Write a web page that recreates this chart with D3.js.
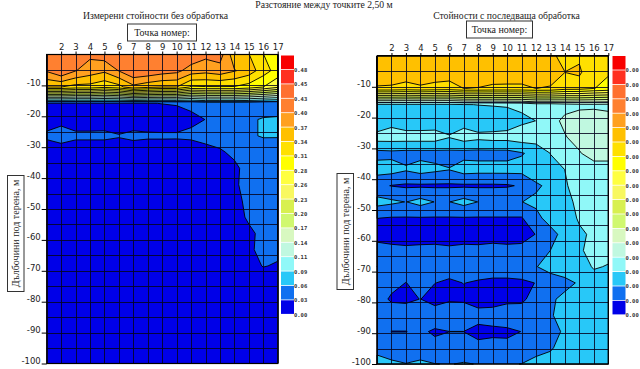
<!DOCTYPE html>
<html>
  <head>
    <meta charset="utf-8">
    <style>
      html, body { margin: 0; padding: 0; background: #fff; }
      svg { display: block; }
      .title { font: 9.7px "Liberation Serif", serif; fill: #222; }
      .boxlabel { font: 10px "Liberation Serif", serif; fill: #222; }
      .axis text { font: 8.5px "DejaVu Sans", sans-serif; fill: #222; }
      .axis line { stroke: #000; }
      .axis path { display: none; }
      .grid line { stroke: #050520; stroke-opacity: 0.85; stroke-width: 1; }
      .legend text { font: bold 5.5px "DejaVu Sans Mono", monospace; fill: #333; }
    </style>
    <script src="https://cdnjs.cloudflare.com/ajax/libs/d3/7.8.5/d3.min.js"></script>
  </head>
  <body>
    <svg class="chart" width="640" height="369"></svg>
    <script>
      // measuring points along the line, and the 20 depth rows of the survey
      const points = [1,2,3,4,5,6,7,8,9,10,11,12,13,14,15,16,17];
      const depths = [0,-5.26,-10.53,-15.79,-21.05,-26.32,-31.58,-36.84,-42.11,-47.37,-52.63,-57.89,-63.16,-68.42,-73.68,-78.95,-84.21,-89.47,-94.74,-100];
      const depthTicks = [-10,-20,-30,-40,-50,-60,-70,-80,-90,-100];
      const gridDepths = [-5,-10,-15,-20,-25,-30,-35,-40,-45,-50,-55,-60,-65,-70,-75,-80,-85,-90,-95];

      // contour levels, bottom to top of the colour bar
      const levels = [0.028,0.057,0.085,0.113,0.142,0.170,0.198,0.227,0.255,0.283,0.312,0.340,0.368,0.397,0.425,0.453,0.482];
      const bandColors = ["#0000e8","#1070f0","#28c8f8","#90f8f8","#c0f8e0","#d8f8c0","#d0f870","#d8f050","#f8f860","#ffff40","#ffff00","#ffe000","#ffc000","#ffa020","#ff8030","#ff7030","#ff3020","#f80000"];
      const leftLegend = ["0.00","0.03","0.06","0.09","0.11","0.14","0.17","0.20","0.23","0.26","0.28","0.31","0.34","0.37","0.40","0.43","0.45","0.48"];
      const rightLegend = ["0.00","0.00","0.00","0.00","0.00","0.00","0.00","0.00","0.00","0.00","0.00","0.00","0.00","0.00","0.00","0.00","0.00","0.00"];

      const leftValues = [
        [.42,.42,.41,.403,.412,.42,.42,.42,.415,.42,.42,.405,.41,.35,.341,.3125,.295],
        [.40,.424,.398,.383,.373,.398,.424,.42,.411,.405,.383,.377,.385,.37,.355,.325,.30],
        [.34,.34,.33,.33,.319,.33,.36,.348,.34,.34,.308,.31,.31,.31,.30,.283,.26],
        [.027,.027,.027,.027,.027,.027,.027,.027,.0285,.03,.032,.04,.04,.04,.04,.035,.035],
        [.018,.024,.018,.018,.019,.018,.019,.018,.016,.016,.024,.0282,.035,.037,.052,.06,.062],
        [.032,.034,.032,.032,.032,.029,.032,.031,.031,.031,.032,.032,.036,.04,.052,.06,.06],
        [.015,.021,.016,.016,.016,.02,.018,.016,.016,.015,.016,.024,.0257,.032,.035,.035,.033],
        [.015,.015,.015,.015,.015,.015,.015,.015,.015,.015,.015,.015,.015,.024,.035,.04,.04],
        [.015,.015,.015,.015,.015,.015,.015,.015,.015,.015,.015,.015,.015,.025,.035,.04,.04],
        [.015,.015,.015,.015,.015,.015,.015,.015,.015,.015,.015,.015,.015,.022,.033,.04,.04],
        [.015,.015,.015,.015,.015,.015,.015,.015,.015,.015,.015,.015,.015,.02,.031,.04,.04],
        [.015,.015,.015,.015,.015,.015,.015,.015,.015,.015,.015,.015,.015,.018,.024,.033,.036],
        [.015,.015,.015,.015,.015,.015,.015,.015,.015,.015,.015,.015,.015,.018,.025,.033,.033],
        [.015,.015,.015,.015,.015,.015,.015,.015,.015,.015,.015,.015,.015,.016,.02,.029,.026],
        [.015,.015,.015,.015,.015,.015,.015,.015,.015,.015,.015,.015,.015,.015,.015,.015,.015],
        [.015,.015,.015,.015,.015,.015,.015,.015,.015,.015,.015,.015,.015,.015,.015,.015,.015],
        [.015,.015,.015,.015,.015,.015,.015,.015,.015,.015,.015,.015,.015,.015,.015,.015,.015],
        [.015,.015,.015,.015,.015,.015,.015,.015,.015,.015,.015,.015,.015,.015,.015,.015,.015],
        [.015,.015,.015,.015,.015,.015,.015,.015,.015,.015,.015,.015,.015,.015,.015,.015,.015],
        [.015,.015,.015,.015,.015,.015,.015,.015,.015,.015,.015,.015,.015,.015,.015,.015,.015]
      ];

      // the right bar only reads 0.00, so these are in the same band units as the left one
      const rightValues = [
        [.355,.355,.355,.355,.355,.355,.355,.355,.355,.355,.355,.355,.345,.3325,.335,.322,.32],
        [.35,.35,.35,.35,.35,.35,.35,.35,.35,.35,.35,.35,.35,.3402,.345,.315,.314],
        [.3382,.3375,.3333,.3375,.334,.3315,.3401,.3394,.3367,.3363,.3363,.3401,.3382,.325,.3233,.3125,.306],
        [.08,.08,.08,.08,.08,.08,.084,.0855,.087,.088,.09,.10,.10,.105,.108,.109,.108],
        [.0575,.076,.0655,.0655,.0677,.077,.0739,.068,.0646,.07,.08,.0852,.105,.118,.123,.123,.12],
        [.098,.098,.098,.098,.098,.0862,.098,.092,.095,.095,.10,.10,.102,.1115,.122,.122,.122],
        [.048,.05,.048,.048,.048,.05,.048,.048,.048,.048,.055,.065,.0855,.095,.111,.125,.125],
        [.069,.068,.060,.068,.0625,.0578,.069,.067,.067,.067,.066,.072,.078,.0852,.095,.10,.10],
        [.035,.027,.024,.024,.024,.024,.024,.024,.024,.025,.031,.053,.063,.083,.093,.10,.10],
        [.067,.062,.0565,.066,.0565,.0565,.066,.0566,.0566,.0566,.0566,.062,.072,.08,.089,.095,.097],
        [.0285,.026,.026,.026,.026,.026,.026,.026,.026,.026,.026,.05,.067,.07,.0885,.095,.097],
        [.012,.012,.012,.012,.012,.012,.012,.012,.012,.012,.015,.029,.048,.066,.08,.09,.10],
        [.045,.038,.035,.037,.038,.0345,.038,.037,.041,.038,.038,.04,.0572,.07,.08,.098,.095],
        [.0572,.045,.042,.042,.042,.042,.042,.042,.042,.042,.042,.056,.066,.075,.07,.088,.083],
        [.04,.036,.0275,.036,.0285,.023,.0285,.025,.022,.022,.024,.0285,.044,.048,.0605,.07,.07],
        [.04,.024,.022,.0285,.016,.024,.023,.016,.016,.019,.02,.045,.052,.065,.07,.072,.072],
        [.045,.044,.045,.045,.046,.05,.048,.038,.04,.05,.05,.05,.055,.065,.07,.072,.072],
        [.04,.0275,.0275,.033,.024,.0278,.0278,.02,.022,.021,.0285,.045,.05,.06,.07,.072,.072],
        [.045,.045,.045,.045,.037,.04,.04,.036,.038,.038,.045,.05,.054,.068,.072,.072,.072],
        [.072,.061,.0575,.061,.0575,.056,.059,.056,.056,.056,.0572,.063,.068,.07,.072,.072,.072]
      ];

      const svg = d3.select(".chart");

      svg.append("text")
        .attr("class", "title")
        .attr("x", 324).attr("y", 8)
        .attr("text-anchor", "middle")
        .text("Разстояние между точките 2,50 м");

      function drawPanel(p) {
        const g = svg.append("g");

        const x = d3.scaleLinear().domain([1, 17]).range([p.left, p.right]);
        const y = d3.scaleLinear().domain([0, -100]).range([p.top, p.bottom]);

        // contour grid index -> data -> pixels
        const xIndex = d3.scaleLinear().domain(points.map((d, i) => i + 0.5)).range(points).clamp(true);
        const yIndex = d3.scaleLinear().domain(depths.map((d, i) => i + 0.5)).range(depths).clamp(true);
        const ringLine = d3.line().x(d => x(xIndex(d[0]))).y(d => y(yIndex(d[1])));

        g.append("rect")
          .attr("x", x(1)).attr("y", y(0))
          .attr("width", x(17) - x(1)).attr("height", y(-100) - y(0))
          .attr("fill", bandColors[0]);

        const contours = d3.contours().size([points.length, depths.length]).thresholds(levels);
        g.append("g").selectAll("path")
          .data(contours(p.values.flat()))
          .enter().append("path")
          .attr("d", c => c.coordinates.map(poly => poly.map(r => ringLine(r) + "Z").join("")).join(""))
          .attr("fill-rule", "evenodd")
          .attr("fill", (c, i) => bandColors[i + 1])
          .attr("stroke", "#000")
          .attr("stroke-opacity", 0.9)
          .attr("stroke-width", 1);

        // grid lines sit on whole pixels so they all come out the same weight
        const snap = v => Math.round(v) + 0.5;
        const grid = g.append("g").attr("class", "grid");
        grid.selectAll(".v").data(points).enter().append("line")
          .attr("class", "v")
          .attr("x1", d => snap(x(d))).attr("x2", d => snap(x(d)))
          .attr("y1", y(0)).attr("y2", y(-100));
        grid.selectAll(".h").data(gridDepths).enter().append("line")
          .attr("class", "h")
          .attr("x1", x(1)).attr("x2", x(17))
          .attr("y1", d => snap(y(d))).attr("y2", d => snap(y(d)));

        g.append("rect")
          .attr("x", x(1)).attr("y", y(0))
          .attr("width", x(17) - x(1)).attr("height", y(-100) - y(0))
          .attr("fill", "none").attr("stroke", "#000").attr("stroke-width", 1.2);

        // axes
        g.append("g").attr("class", "axis")
          .attr("transform", `translate(0,${p.top})`)
          .call(d3.axisTop(x).tickValues(points.slice(1)).tickFormat(d3.format("d")).tickSize(3).tickPadding(2));

        const yAxis = g.append("g").attr("class", "axis")
          .attr("transform", `translate(${p.left},0)`)
          .call(d3.axisLeft(y).tickValues(depthTicks).tickFormat(d3.format("d")).tickSize(5).tickPadding(1));
        yAxis.selectAll("text").attr("dy", "0").text(d => "-" + Math.abs(d));

        // title and the two boxed captions
        g.append("text").attr("class", "title")
          .attr("x", p.titleX).attr("y", 19)
          .attr("text-anchor", "middle")
          .text(p.title);

        g.append("rect")
          .attr("x", p.boxX).attr("y", p.boxY).attr("width", p.boxW).attr("height", 17)
          .attr("fill", "#fff").attr("stroke", "#333");
        g.append("text").attr("class", "boxlabel")
          .attr("x", p.boxX + p.boxW / 2).attr("y", p.boxY + 12)
          .attr("text-anchor", "middle")
          .text("Точка номер:");

        g.append("rect")
          .attr("x", p.yBoxX).attr("y", p.yBoxY).attr("width", 16.5).attr("height", 116)
          .attr("fill", "#fff").attr("stroke", "#333");
        g.append("text").attr("class", "boxlabel")
          .attr("transform", `translate(${p.yBoxX + 11.5},${p.yBoxY + 58}) rotate(-90)`)
          .attr("text-anchor", "middle")
          .text("Дълбочини под терена, м");

        // colour bar
        const legendY = d3.scaleBand().domain(d3.range(18).reverse()).range([p.legendTop, p.legendTop + 18 * 14.4]);
        const legend = g.append("g").attr("class", "legend");
        legend.selectAll("rect").data(d3.range(18)).enter().append("rect")
          .attr("x", p.legendX)
          .attr("y", d => legendY(d))
          .attr("width", 13)
          .attr("height", legendY.bandwidth() - 0.8)
          .attr("fill", d => bandColors[d]);
        legend.selectAll("text").data(d3.range(18)).enter().append("text")
          .attr("x", p.legendX + 13)
          .attr("y", d => legendY(d) + legendY.bandwidth() + 2)
          .text(d => p.legendLabels[d]);
      }

      drawPanel({
        values: leftValues, legendLabels: leftLegend,
        left: 46.7, right: 277.7, top: 54.5, bottom: 363.5,
        title: "Измерени стойности без обработка", titleX: 155.5,
        boxX: 127.5, boxY: 24, boxW: 69,
        yBoxX: 7.5, yBoxY: 175.5,
        legendX: 281, legendTop: 55.5
      });

      drawPanel({
        values: rightValues, legendLabels: rightLegend,
        left: 377, right: 608.3, top: 56, bottom: 364,
        title: "Стойности с последваща обработка", titleX: 506.5,
        boxX: 466.5, boxY: 21, boxW: 66,
        yBoxX: 337, yBoxY: 173.5,
        legendX: 612.5, legendTop: 56
      });
    </script>
  </body>

</html>
